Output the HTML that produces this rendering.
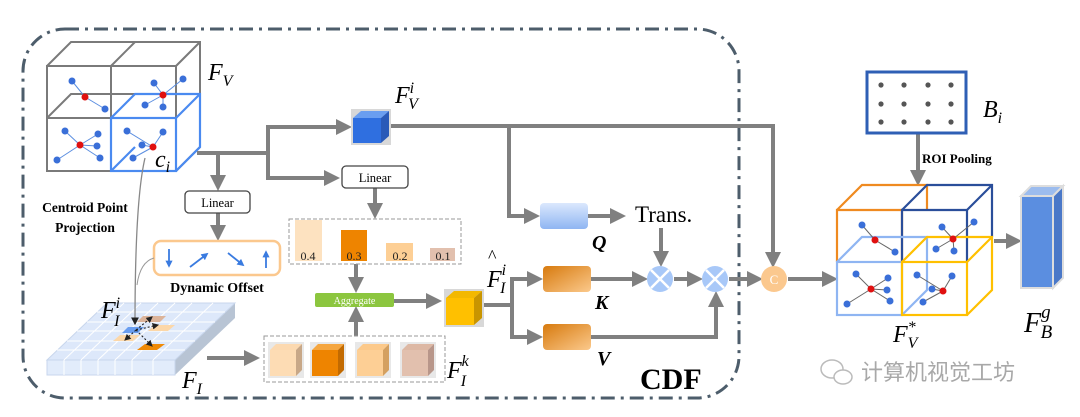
<!DOCTYPE html>
<html><head><meta charset="utf-8"><style>
html,body{margin:0;padding:0;background:#fff;width:1080px;height:417px;overflow:hidden}
svg{display:block}
text{font-family:"Liberation Serif",serif}
</style></head><body>
<svg width="1080" height="417" viewBox="0 0 1080 417" xmlns="http://www.w3.org/2000/svg">
<defs>
<marker id="ah" markerWidth="4" markerHeight="4" refX="3" refY="2" orient="auto" markerUnits="strokeWidth"><path d="M0,0 L4,2 L0,4 z" fill="#808080"/></marker>
<marker id="ak" markerWidth="6" markerHeight="6" refX="5" refY="3" orient="auto" markerUnits="strokeWidth"><path d="M0,0 L6,3 L0,6 z" fill="#222"/></marker>
<marker id="ab" markerWidth="4" markerHeight="4" refX="3" refY="2" orient="auto" markerUnits="strokeWidth"><path d="M0,0 L4,2 L0,4 z" fill="#3a7be0"/></marker>
<linearGradient id="og" x1="0" y1="0" x2="1" y2="1"><stop offset="0" stop-color="#d77a0e"/><stop offset="1" stop-color="#fbc98c"/></linearGradient>
<linearGradient id="bg" x1="0" y1="0" x2="0" y2="1"><stop offset="0" stop-color="#dbe8fd"/><stop offset="1" stop-color="#8fb5f2"/></linearGradient>
</defs>

<!-- outer dash-dot border -->
<rect x="23" y="29" width="716" height="369" rx="42" fill="none" stroke="#4d5d6b" stroke-width="3" stroke-dasharray="14,6,3,6"/>

<!-- Fv cube grid -->
<g fill="none" stroke="#7a7a7a" stroke-width="2">
<rect x="47" y="66" width="129" height="105"/>
<line x1="111" y1="66" x2="111" y2="171"/><line x1="47" y1="118" x2="176" y2="118"/>
<polyline points="47,66 71,42 200,42 200,147 176,171"/>
<line x1="111" y1="66" x2="135" y2="42"/><line x1="176" y1="66" x2="200" y2="42"/>
<polyline points="47,118 71,94 135,94"/>
</g>
<g fill="none" stroke="#4a8af0" stroke-width="2.2">
<rect x="111" y="118" width="65" height="53"/>
<polyline points="111,118 135,94 200,94 200,147 176,171"/><line x1="176" y1="118" x2="200" y2="94"/>
<line x1="111" y1="171" x2="135" y2="147"/>
</g>
<g stroke="#5b8ee0" stroke-width="1">
<line x1="72" y1="81" x2="85" y2="97"/><line x1="85" y1="97" x2="105" y2="109"/>
<line x1="154" y1="83" x2="163" y2="95"/><line x1="163" y1="95" x2="183" y2="79"/><line x1="163" y1="95" x2="145" y2="105"/><line x1="163" y1="95" x2="163" y2="107"/>
<line x1="80" y1="145" x2="80" y2="145"/>
<line x1="65" y1="131" x2="80" y2="145"/><line x1="80" y1="145" x2="98" y2="134"/><line x1="80" y1="145" x2="97" y2="146"/><line x1="80" y1="145" x2="100" y2="158"/><line x1="80" y1="145" x2="57" y2="160"/>
<line x1="127" y1="131" x2="153" y2="147"/><line x1="153" y1="147" x2="163" y2="132"/><line x1="153" y1="147" x2="142" y2="145"/><line x1="153" y1="147" x2="133" y2="158"/>
</g>
<g fill="#3a6fd8">
<circle cx="72" cy="81" r="3.5"/><circle cx="105" cy="109" r="3.5"/>
<circle cx="154" cy="83" r="3.5"/><circle cx="183" cy="79" r="3.5"/><circle cx="145" cy="105" r="3.5"/><circle cx="163" cy="107" r="3.5"/>
<circle cx="65" cy="131" r="3.5"/><circle cx="98" cy="134" r="3.5"/><circle cx="97" cy="146" r="3.5"/><circle cx="100" cy="158" r="3.5"/><circle cx="57" cy="160" r="3.5"/>
<circle cx="127" cy="131" r="3.5"/><circle cx="163" cy="132" r="3.5"/><circle cx="142" cy="145" r="3.5"/><circle cx="133" cy="158" r="3.5"/>
</g>
<g fill="#e01010"><circle cx="85" cy="97" r="3.5"/><circle cx="163" cy="95" r="3.5"/><circle cx="80" cy="145" r="3.5"/><circle cx="153" cy="147" r="3.5"/></g>
<text x="208" y="80" font-size="24" font-style="italic">F<tspan font-size="16" dy="6">V</tspan></text>
<text x="155" y="167" font-size="24" font-style="italic">c<tspan font-size="16" dy="5">i</tspan></text>
<text x="85" y="212" font-size="13.5" font-weight="bold" text-anchor="middle">Centroid Point</text>
<text x="85" y="232" font-size="13.5" font-weight="bold" text-anchor="middle">Projection</text>

<!-- main gray connectors -->
<g fill="none" stroke="#808080" stroke-width="4">
<polyline points="197,153 268,153"/>
<polyline points="268,153 268,127 348,127" marker-end="url(#ah)"/>
<polyline points="268,153 268,178 336,178" marker-end="url(#ah)"/>
<polyline points="218,153 218,187" marker-end="url(#ah)"/>
<polyline points="218,213 218,237" marker-end="url(#ah)"/>
<polyline points="375,188 375,215" marker-end="url(#ah)"/>
<polyline points="356,264 356,289" marker-end="url(#ah)"/>
<polyline points="356,336 356,310" marker-end="url(#ah)"/>
<polyline points="394,301 438,301" marker-end="url(#ah)"/>
<polyline points="207,358 256,358" marker-end="url(#ah)"/>
<polyline points="483,305 512,305"/>
<polyline points="512,305 512,279 539,279" marker-end="url(#ah)"/>
<polyline points="512,305 512,337 539,337" marker-end="url(#ah)"/>
<polyline points="390,126 773,126 773,264" marker-end="url(#ah)"/>
<polyline points="509,126 509,216 536,216" marker-end="url(#ah)"/>
<polyline points="588,216 622,216" marker-end="url(#ah)"/>
<polyline points="661,228 661,263" marker-end="url(#ah)"/>
<polyline points="591,279 644,279" marker-end="url(#ah)"/>
<polyline points="674,279 699,279" marker-end="url(#ah)"/>
<polyline points="591,337 716,337 716,295" marker-end="url(#ah)"/>
<polyline points="729,279 759,279" marker-end="url(#ah)"/>
<polyline points="788,279 834,279" marker-end="url(#ah)"/>
<polyline points="918,133 918,182" marker-end="url(#ah)"/>
<polyline points="994,241 1018,241" marker-end="url(#ah)"/>
</g>

<!-- Linear boxes -->
<rect x="185" y="191" width="65" height="22" rx="4" fill="#fff" stroke="#444" stroke-width="1.3"/>
<text x="217.5" y="207" font-size="12.5" text-anchor="middle">Linear</text>
<rect x="342" y="166" width="66" height="22" rx="4" fill="#fff" stroke="#444" stroke-width="1.3"/>
<text x="375" y="182" font-size="12.5" text-anchor="middle">Linear</text>

<!-- Dynamic offset -->
<rect x="154" y="241" width="126" height="34" rx="7" fill="#fff" stroke="#fbc88e" stroke-width="2.5"/>
<g stroke="#3a7be0" stroke-width="1.8" fill="none">
<line x1="169" y1="249" x2="169" y2="266" marker-end="url(#ab)"/>
<line x1="190" y1="267" x2="207" y2="254" marker-end="url(#ab)"/>
<line x1="228" y1="253" x2="243" y2="265" marker-end="url(#ab)"/>
<line x1="266" y1="268" x2="266" y2="252" marker-end="url(#ab)"/>
</g>
<text x="217" y="292" font-size="14" font-weight="bold" text-anchor="middle">Dynamic Offset</text>

<!-- F_I plane -->
<g>
<polygon points="175,360 235,303 235,318 175,375" fill="#b8c4d4"/>
<polygon points="47,360 175,360 235,303 107,303" fill="#dde8fa" stroke="#c8d6ec"/>
<rect x="47" y="360" width="128" height="15" fill="#e2ecfb" stroke="#c8d6ec"/>
<g stroke="#fff" stroke-width="1">
<line x1="64" y1="360" x2="124" y2="303"/><line x1="81" y1="360" x2="141" y2="303"/><line x1="98" y1="360" x2="158" y2="303"/><line x1="115" y1="360" x2="175" y2="303"/><line x1="132" y1="360" x2="192" y2="303"/><line x1="153" y1="360" x2="213" y2="303"/>
<line x1="57" y1="350" x2="185" y2="350"/><line x1="67" y1="341" x2="195" y2="341"/><line x1="77" y1="331" x2="205" y2="331"/><line x1="87" y1="322" x2="215" y2="322"/><line x1="97" y1="312" x2="225" y2="312"/>
<line x1="64" y1="360" x2="64" y2="375"/><line x1="81" y1="360" x2="81" y2="375"/><line x1="98" y1="360" x2="98" y2="375"/><line x1="115" y1="360" x2="115" y2="375"/><line x1="132" y1="360" x2="132" y2="375"/><line x1="153" y1="360" x2="153" y2="375"/>
</g>
<polygon points="143,316 166,316 160,322 137,322" fill="#dcb49a"/>
<polygon points="155,325 175,325 168,331 148,331" fill="#fcd7a8"/>
<polygon points="120,335 140,335 133,341 113,341" fill="#fcd7a8"/>
<polygon points="145,344 165,344 157,350 137,350" fill="#ef8a06"/>
<polygon points="128,327 144,327 138,333 122,333" fill="#6a9ef0"/>
<g stroke="#222" stroke-width="1.1" stroke-dasharray="2,2" fill="none">
<line x1="136" y1="330" x2="152" y2="317" marker-end="url(#ak)"/>
<line x1="136" y1="330" x2="158" y2="325" marker-end="url(#ak)"/>
<line x1="136" y1="330" x2="125" y2="340" marker-end="url(#ak)"/>
<line x1="136" y1="330" x2="152" y2="346" marker-end="url(#ak)"/>
</g>
</g>
<path d="M145,158 Q135,200 135,324" fill="none" stroke="#888" stroke-width="1.3" marker-end="url(#ak)"/>
<path d="M154,258 Q140,262 137,285" fill="none" stroke="#999" stroke-width="1"/>
<text x="101" y="318" font-size="24" font-style="italic">F<tspan font-size="16" dy="-10">i</tspan><tspan font-size="16" dx="-6" dy="18">I</tspan></text>
<text x="182" y="388" font-size="24" font-style="italic">F<tspan font-size="16" dy="6">I</tspan></text>

<!-- weights -->
<rect x="289" y="219" width="172" height="45" fill="none" stroke="#999" stroke-dasharray="4,2"/>
<rect x="295" y="220" width="27" height="41" fill="#fde2c0"/>
<rect x="341" y="230" width="26" height="31" fill="#ee8400"/>
<rect x="386" y="243" width="27" height="18" fill="#fdcf95"/>
<rect x="430" y="248" width="25" height="13" fill="#e2c0ae"/>
<g font-size="12" text-anchor="middle" fill="#222"><text x="308" y="260">0.4</text><text x="354" y="260">0.3</text><text x="400" y="260">0.2</text><text x="443" y="260">0.1</text></g>

<!-- aggregate -->
<rect x="315" y="293" width="79" height="14" rx="2" fill="#8cc63f"/>
<text x="354.5" y="304" font-size="10" fill="#fff" text-anchor="middle">Aggregate</text>

<!-- Fk cubes -->
<rect x="264" y="336" width="181" height="46" fill="none" stroke="#999" stroke-dasharray="4,2"/>
<g>
<g transform="translate(268,342)"><rect x="0" y="0" width="36" height="36" fill="#e8e8e8"/><polygon points="2,8 8,2 34,2 28,8" fill="#fcd9b0"/><rect x="2" y="8" width="26" height="26" fill="#fddcb4"/><polygon points="28,8 34,2 34,28 28,34" fill="#c8a888"/></g>
<g transform="translate(310,342)"><rect x="0" y="0" width="36" height="36" fill="#e8e8e8"/><polygon points="2,8 8,2 34,2 28,8" fill="#f5a640"/><rect x="2" y="8" width="26" height="26" fill="#ee8400"/><polygon points="28,8 34,2 34,28 28,34" fill="#c26a00"/></g>
<g transform="translate(355,342)"><rect x="0" y="0" width="36" height="36" fill="#e8e8e8"/><polygon points="2,8 8,2 34,2 28,8" fill="#fcc98a"/><rect x="2" y="8" width="26" height="26" fill="#fdcf95"/><polygon points="28,8 34,2 34,28 28,34" fill="#d4a060"/></g>
<g transform="translate(400,342)"><rect x="0" y="0" width="36" height="36" fill="#e8e8e8"/><polygon points="2,8 8,2 34,2 28,8" fill="#ddb8a4"/><rect x="2" y="8" width="26" height="26" fill="#e2c0ae"/><polygon points="28,8 34,2 34,28 28,34" fill="#b8968a"/></g>
</g>
<text x="447" y="378" font-size="24" font-style="italic">F<tspan font-size="16" dy="-12">k</tspan><tspan font-size="16" dx="-8" dy="20">I</tspan></text>

<!-- F hat cube -->
<g transform="translate(444,289)"><rect x="0" y="0" width="40" height="38" fill="#d8d8d8"/><polygon points="2,9 10,2 38,2 30,9" fill="#f3b800"/><rect x="2" y="9" width="28" height="27" fill="#ffc000"/><polygon points="30,9 38,2 38,29 30,36" fill="#c99500"/></g>
<text x="487" y="287" font-size="24" font-style="italic">F<tspan font-size="16" dy="-12">i</tspan><tspan font-size="16" dx="-6" dy="18">I</tspan></text>
<text x="488" y="262" font-size="18">^</text>

<!-- Fv^i cube -->
<g transform="translate(351,109)"><rect x="0" y="0" width="40" height="36" fill="#d8d8d8"/><polygon points="2,9 10,2 38,2 30,9" fill="#6a9ef0"/><rect x="2" y="9" width="28" height="25" fill="#2f6fe0"/><polygon points="30,9 38,2 38,27 30,34" fill="#2a5ab8"/></g>
<text x="395" y="103" font-size="24" font-style="italic">F<tspan font-size="16" dy="-10">i</tspan><tspan font-size="16" dx="-6" dy="16">V</tspan></text>

<!-- Q K V -->
<rect x="540" y="203" width="48" height="26" rx="4" fill="url(#bg)"/>
<rect x="543" y="266" width="48" height="26" rx="4" fill="url(#og)"/>
<rect x="543" y="324" width="48" height="26" rx="4" fill="url(#og)"/>
<text x="592" y="249" font-size="20" font-weight="bold" font-style="italic">Q</text>
<text x="595" y="309" font-size="20" font-weight="bold" font-style="italic">K</text>
<text x="597" y="365" font-size="20" font-weight="bold" font-style="italic">V</text>
<text x="635" y="222" font-size="23">Trans.</text>

<!-- otimes -->
<g>
<circle cx="660" cy="279" r="13" fill="#a8c8f8"/><path d="M651,270 L669,288 M669,270 L651,288" stroke="#fff" stroke-width="2.5"/>
<circle cx="715" cy="279" r="13" fill="#a8c8f8"/><path d="M706,270 L724,288 M724,270 L706,288" stroke="#fff" stroke-width="2.5"/>
<circle cx="774" cy="279" r="13" fill="#fbc88e"/><text x="774" y="284" font-size="13" fill="#fff" text-anchor="middle">C</text>
</g>

<text x="640" y="389" font-size="30" font-weight="bold">CDF</text>

<!-- Bi -->
<rect x="867" y="72" width="99" height="61" fill="#fff" stroke="#2f5fb5" stroke-width="3"/>
<g fill="#555">
<circle cx="881" cy="85" r="2.6"/><circle cx="904" cy="85" r="2.6"/><circle cx="928" cy="85" r="2.6"/><circle cx="951" cy="85" r="2.6"/>
<circle cx="881" cy="104" r="2.6"/><circle cx="904" cy="104" r="2.6"/><circle cx="928" cy="104" r="2.6"/><circle cx="951" cy="104" r="2.6"/>
<circle cx="881" cy="122" r="2.6"/><circle cx="904" cy="122" r="2.6"/><circle cx="928" cy="122" r="2.6"/><circle cx="951" cy="122" r="2.6"/>
</g>
<text x="983" y="117" font-size="24" font-style="italic">B<tspan font-size="16" dy="6">i</tspan></text>
<text x="922" y="163" font-size="13" font-weight="bold">ROI Pooling</text>

<!-- Fv* cubes -->
<g fill="none" stroke-width="2.2">
<polyline points="837,262 837,210 902,210 902,262" stroke="#ef8a20"/><polyline points="837,210 862,185 927,185 927,210" stroke="#ef8a20"/>
<polyline points="902,262 902,210 967,210 967,262" stroke="#2a4e9a"/><polyline points="902,210 927,185 992,185 992,237" stroke="#2a4e9a"/><line x1="967" y1="210" x2="992" y2="185" stroke="#2a4e9a"/>
<rect x="837" y="262" width="65" height="53" stroke="#8fb5f2"/><polyline points="837,262 862,237 927,237 927,290 902,315" stroke="#8fb5f2"/>
<rect x="902" y="262" width="65" height="53" stroke="#ffc000"/><polyline points="902,262 927,237 992,237 992,290 967,315" stroke="#ffc000"/><line x1="967" y1="262" x2="992" y2="237" stroke="#ffc000"/>
</g>
<g stroke="#666" stroke-width="1">
<line x1="862" y1="225" x2="875" y2="240"/><line x1="875" y1="240" x2="895" y2="252"/>
<line x1="942" y1="227" x2="953" y2="239"/><line x1="953" y1="239" x2="974" y2="222"/><line x1="953" y1="239" x2="936" y2="249"/><line x1="953" y1="239" x2="954" y2="251"/>
<line x1="856" y1="274" x2="871" y2="289"/><line x1="871" y1="289" x2="888" y2="278"/><line x1="871" y1="289" x2="887" y2="290"/><line x1="871" y1="289" x2="890" y2="301"/><line x1="871" y1="289" x2="847" y2="304"/>
<line x1="917" y1="275" x2="943" y2="291"/><line x1="943" y1="291" x2="952" y2="276"/><line x1="943" y1="291" x2="932" y2="289"/><line x1="943" y1="291" x2="923" y2="302"/>
</g>
<g fill="#3a6fd8">
<circle cx="862" cy="225" r="3.5"/><circle cx="895" cy="252" r="3.5"/>
<circle cx="942" cy="227" r="3.5"/><circle cx="974" cy="222" r="3.5"/><circle cx="936" cy="249" r="3.5"/><circle cx="954" cy="251" r="3.5"/>
<circle cx="856" cy="274" r="3.5"/><circle cx="888" cy="278" r="3.5"/><circle cx="887" cy="290" r="3.5"/><circle cx="890" cy="301" r="3.5"/><circle cx="847" cy="304" r="3.5"/>
<circle cx="917" cy="275" r="3.5"/><circle cx="952" cy="276" r="3.5"/><circle cx="932" cy="289" r="3.5"/><circle cx="923" cy="302" r="3.5"/>
</g>
<g fill="#e01010"><circle cx="875" cy="240" r="3.5"/><circle cx="953" cy="239" r="3.5"/><circle cx="871" cy="289" r="3.5"/><circle cx="943" cy="291" r="3.5"/></g>
<text x="893" y="342" font-size="24" font-style="italic">F<tspan font-size="16" dy="-10">*</tspan><tspan font-size="16" dx="-8" dy="16">V</tspan></text>

<!-- F_B^g -->
<g>
<polygon points="1021,196 1031,186 1063,186 1053,196" fill="#9cbcee" stroke="#ddd" stroke-width="2"/>
<rect x="1021" y="196" width="32" height="92" fill="#5b8ee0" stroke="#ddd" stroke-width="2"/>
<polygon points="1053,196 1063,186 1063,278 1053,288" fill="#4a78c8" stroke="#ddd" stroke-width="2"/>
</g>
<text x="1024" y="332" font-size="28" font-style="italic">F<tspan font-size="19" dy="-14">g</tspan><tspan font-size="19" dx="-10" dy="20">B</tspan></text>

<!-- watermark -->
<g fill="none" stroke="#bbb" stroke-width="1.5"><ellipse cx="832" cy="369" rx="11" ry="9"/><ellipse cx="843" cy="377" rx="9" ry="7" fill="#fff"/></g>
<text x="861" y="380" font-size="22" fill="#a8a8a8" font-family="'Liberation Sans','Noto Sans CJK SC',sans-serif">计算机视觉工坊</text>
</svg>
</body></html>
